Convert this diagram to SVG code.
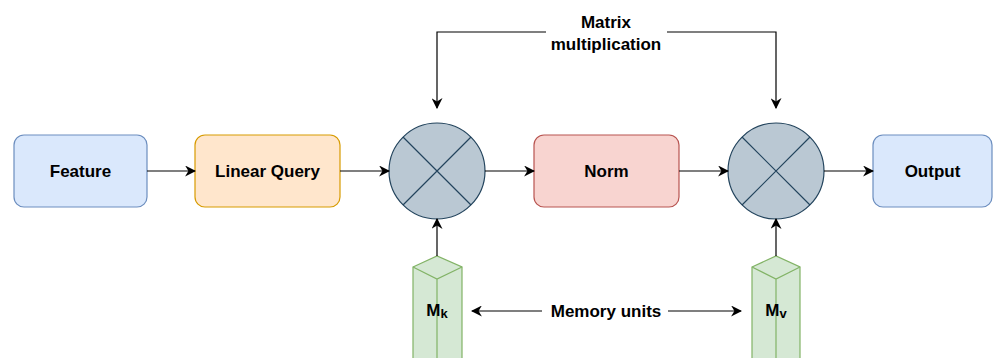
<svg xmlns="http://www.w3.org/2000/svg" width="995" height="358" viewBox="0 0 995 358">
<defs>
<marker id="ah" viewBox="0 0 10 10" refX="9" refY="5" markerWidth="11" markerHeight="11" markerUnits="userSpaceOnUse" orient="auto">
<path d="M0,0 L10,5 L0,10 L3,5 Z" fill="#000"/>
</marker>
<style>
.t{font-family:"Liberation Sans",Arial,sans-serif;font-weight:bold;font-size:17px;fill:#000;text-anchor:middle;dominant-baseline:central}
.c{stroke:#000;stroke-width:1.2;fill:none;marker-end:url(#ah)}
.circ{fill:#bac8d3;stroke:#23445d;stroke-width:1.2}
.mem{fill:#d5e8d4;stroke:#82b366;stroke-width:1.2}
</style>
</defs>
<rect width="995" height="358" fill="#fff"/>
<g id="feature"><rect x="14" y="135" width="133" height="72" rx="10" fill="#dae8fc" stroke="#6c8ebf" stroke-width="1.2"/><text class="t" x="80.5" y="171">Feature</text></g>
<g id="linear"><rect x="195" y="135" width="145" height="72" rx="10" fill="#ffe6cc" stroke="#d79b00" stroke-width="1.2"/><text class="t" x="267.5" y="171">Linear Query</text></g>
<g id="mul1"><circle class="circ" cx="437" cy="171" r="48"/><path d="M403,137 L471,205 M471,137 L403,205" stroke="#23445d" stroke-width="1.2"/></g>
<g id="norm"><rect x="534" y="135" width="145" height="72" rx="10" fill="#f8d4d0" stroke="#b85450" stroke-width="1.2"/><text class="t" x="606.5" y="171">Norm</text></g>
<g id="mul2"><circle class="circ" cx="776" cy="171" r="48"/><path d="M742,137 L810,205 M810,137 L742,205" stroke="#23445d" stroke-width="1.2"/></g>
<g id="output"><rect x="873" y="135" width="119" height="72" rx="10" fill="#dae8fc" stroke="#6c8ebf" stroke-width="1.2"/><text class="t" x="932.5" y="171">Output</text></g>
<g id="mk"><path class="mem" d="M413,267 L437,256 L462,267 L462,362 L413,362 Z"/><path class="mem" d="M413,267 L437,279 L462,267 M437,279 L437,362" fill="none"/><text class="t" x="437" y="310">M<tspan font-size="13" dy="3">k</tspan></text></g>
<g id="mv"><path class="mem" d="M752,267 L776,256 L800,267 L800,362 L752,362 Z"/><path class="mem" d="M752,267 L776,279 L800,267 M776,279 L776,362" fill="none"/><text class="t" x="776" y="310">M<tspan font-size="13" dy="3">v</tspan></text></g>
<g id="matlabel"><text class="t" x="606" y="22">Matrix</text><text class="t" x="606" y="44">multiplication</text></g>
<g id="memlabel"><text class="t" x="606" y="311">Memory units</text></g>
<g id="connectors">
<path class="c" d="M147,171 L195,171"/>
<path class="c" d="M340,171 L389,171"/>
<path class="c" d="M485,171 L534,171"/>
<path class="c" d="M679,171 L728,171"/>
<path class="c" d="M824,171 L873,171"/>
<path class="c" d="M437,256 L437,219"/>
<path class="c" d="M776,256 L776,219"/>
<path class="c" d="M546,32 L437,32 L437,108"/>
<path class="c" d="M667,32 L776,32 L776,108"/>
<path class="c" d="M542,311 L472,311"/>
<path class="c" d="M668,311 L741,311"/>
</g>
</svg>
